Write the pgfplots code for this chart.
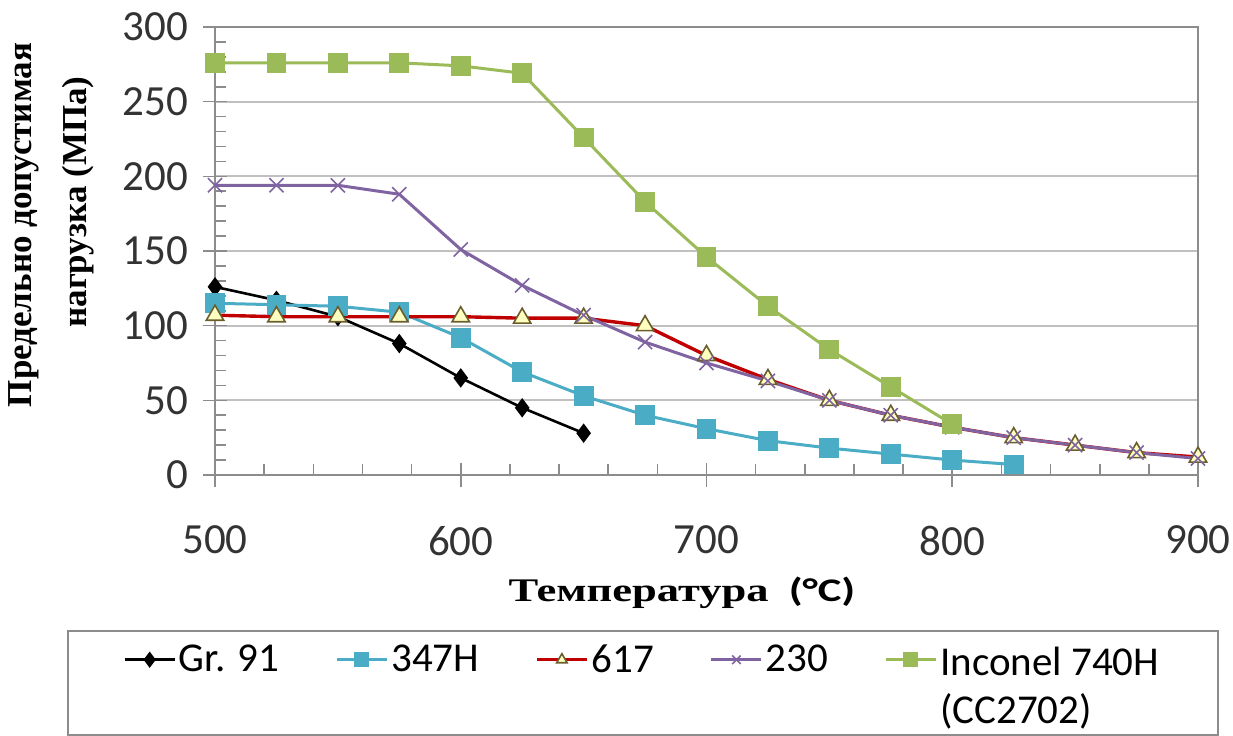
\documentclass[border=0pt]{standalone}
\usepackage{fontspec}
\setmainfont{Carlito}
\newfontfamily\tnr{Liberation Serif}
\usepackage{pgfplots}
\pgfplotsset{compat=1.18}
\usepackage{graphicx}

\definecolor{cgr}{HTML}{000000}
\definecolor{cssh}{HTML}{4BACC6}
\definecolor{cred}{HTML}{C00000}
\definecolor{ctri}{HTML}{FFFFC0}
\definecolor{ctrie}{HTML}{6B5E2E}
\definecolor{cpur}{HTML}{8064A2}
\definecolor{cgrn}{HTML}{9BBB59}
\definecolor{gridc}{HTML}{C0C0C0}
\definecolor{axc}{HTML}{8C8C8C}

% temperature (C) vs allowable stress (MPa)
\pgfplotstableread{
x y
500 126
525 117
550 106
575 88
600 65
625 45
650 28
}\grn
\pgfplotstableread{
x y
500 115
525 114
550 113
575 109
600 92
625 69
650 53
675 40
700 31
725 23
750 18
775 14
800 10
825 7
}\ssh
\pgfplotstableread{
x y
500 107
525 106
550 106
575 106
600 106
625 105
650 105
675 100
700 80
725 64
750 50
775 40
800 32
825 25
850 20
875 15
900 12
}\alsix
\pgfplotstableread{
x y
500 194
525 194
550 194
575 188
600 151
625 127
650 107
675 89
700 75
725 63
750 50
775 40
800 32
825 25
850 20
875 15
900 11
}\altwo
\pgfplotstableread{
x y
500 276
525 276
550 276
575 276
600 274
625 269
650 226
675 183
700 146
725 113
750 84
775 59
800 34
}\inco

\begin{document}
\begin{tikzpicture}
\begin{axis}[
    name=ax,
    width=491.5pt, height=224pt, scale only axis,
    xmin=500, xmax=900, ymin=0, ymax=300,
    xtick={500,600,...,900}, ytick={0,50,...,300},
    minor x tick num=4, minor y tick num=4,
    tick pos=left,
    tick align=center,
    major tick length=12pt, minor tick length=5.5pt,
    minor x tick style={yshift=2.75pt},
    minor y tick style={xshift=2.75pt},
    tick style={axc, line width=0.8pt},
    axis line style={axc, line width=1pt},
    ymajorgrids,
    major grid style={gridc, line width=1pt},
    /pgf/number format/assume math mode=true,
    ticklabel style={font=\fontsize{21.5}{23}\selectfont, text=black!80},
    yticklabel style={xshift=-4pt},
    xticklabel style={yshift=-16pt},
    xlabel={\scalebox{1.35}[1]{{\tnr\bfseries Температура}\ \ {\bfseries (°C)}}},
    xlabel style={font=\fontsize{16.5}{20}\selectfont, at={(axis description cs:0.475,0)}, anchor=center, yshift=-59pt},
    ylabel={Предельно допустимая\\\hspace*{23pt}нагрузка (МПа)},
    ylabel style={font=\tnr\bfseries\fontsize{17.5}{27.5}\selectfont, align=center, at={(axis description cs:-0.166,0.558)}, anchor=center},
    legend columns=5,
    legend image code/.code={\draw[mark repeat=2, mark phase=2, mark size=3pt] plot coordinates {(0pt,0pt) (12.5pt,0pt) (25pt,0pt)};},
    legend style={
        at={(axis description cs:0,0)}, anchor=north west,
        xshift=-46pt, yshift=-81pt,
        draw=none, fill=none,
        inner sep=0pt,
        nodes={inner xsep=1.5pt},
        font=\fontsize{20.5}{24}\selectfont,
        /tikz/every even column/.append style={column sep=26.5pt},
    },
    legend cell align=left,
]
\addplot[cgr, line width=1.3pt, mark=diamond*, mark size=3.8pt, mark options={solid, fill=cgr}] table {\grn};
\addlegendentry{Gr. 91}
\addplot[cssh, line width=1.5pt, mark=square*, mark size=4.2pt, mark options={solid, fill=cssh}] table {\ssh};
\addlegendentry{347H}
\addplot[cred, line width=1.7pt, mark=triangle*, mark size=5pt, mark options={solid, fill=ctri, draw=ctrie, line width=0.8pt}] table {\alsix};
\addlegendentry{617}
\addplot[cpur, line width=1.5pt, mark=x, mark size=5pt, mark options={solid, line width=0.8pt}] table {\altwo};
\addlegendentry{230}
\addplot[cgrn, line width=1.5pt, mark=square*, mark size=4.2pt, mark options={solid, fill=cgrn}] table {\inco};
\addlegendentry{\begin{tabular}[t]{@{}l@{}}Inconel 740H\\(CC2702)\end{tabular}}
\end{axis}
% legend frame
\draw[axc, line width=0.8pt] ([shift={(-73.5pt,-78pt)}]ax.south west) rectangle ([shift={(10pt,-130pt)}]ax.south east);
\pgfresetboundingbox
\useasboundingbox ([shift={(-107.5pt,-130.5pt)}]ax.south west) rectangle ([shift={(17.5pt,13.5pt)}]ax.north east);
\end{tikzpicture}
\end{document}
